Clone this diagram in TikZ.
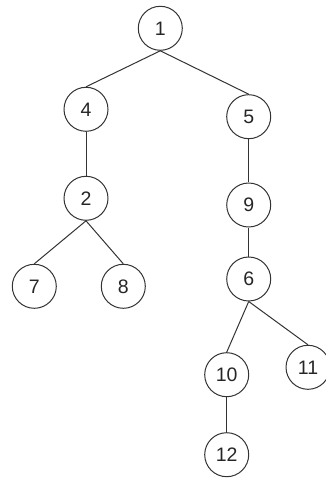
\documentclass[tikz,border=0pt]{standalone}
\usepackage{fontspec}
\setmainfont{Liberation Sans}
\begin{document}
\begin{tikzpicture}[x=1pt,y=-1pt,
  tn/.style={circle,draw=black!80,line width=1pt,minimum size=44pt,inner sep=0pt,font=\fontsize{19.5}{19.5}\selectfont,text=black!85},
  edge/.style={draw=black!80,line width=1pt}]
\useasboundingbox (0,0) rectangle (325,478);
\node[tn] (n1) at (160.3,28.3) {1};
\node[tn] (n4) at (86,109.3) {4};
\node[tn] (n5) at (248.7,116.7) {5};
\node[tn] (n2) at (86,198.3) {2};
\node[tn] (n9) at (248.7,205) {9};
\node[tn] (n7) at (34.3,286.3) {7};
\node[tn] (n8) at (123.3,286.3) {8};
\node[tn] (n6) at (248.7,279) {6};
\node[tn] (n10) at (226.7,374.7) {10};
\node[tn] (n11) at (308,367.3) {11};
\node[tn] (n12) at (226.7,454.7) {12};
\draw[edge] (n1.south) -- (n4.north);
\draw[edge] (n1.south) -- (n5.north);
\draw[edge] (n4.south) -- (n2.north);
\draw[edge] (n5.south) -- (n9.north);
\draw[edge] (n2.south) -- (n7.north);
\draw[edge] (n2.south) -- (n8.north);
\draw[edge] (n9.south) -- (n6.north);
\draw[edge] (n6.south) -- (n10.north);
\draw[edge] (n6.south) -- (n11.north);
\draw[edge] (n10.south) -- (n12.north);
\end{tikzpicture}
\end{document}
